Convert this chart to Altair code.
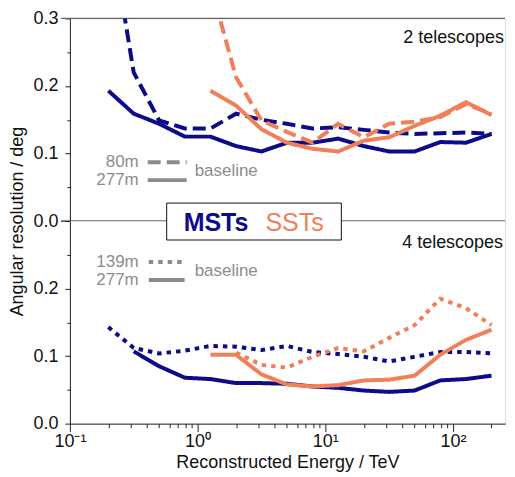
import altair as alt
import pandas as pd

# ---------------- data ----------------
energy = [0.2, 0.316, 0.5, 0.794, 1.26, 2.0, 3.16, 5.0, 7.94, 12.6,
          20.0, 31.6, 50.0, 79.4, 126.0, 200.0]

# 2 telescopes
mst_277_2tel = [0.193, 0.159, 0.144, 0.125, 0.125, 0.111, 0.103, 0.116,
                0.116, 0.122, 0.111, 0.103, 0.103, 0.117, 0.116, 0.129]
mst_80_2tel = [0.45, 0.22, 0.149, 0.137, 0.137, 0.159, 0.150, 0.144,
               0.137, 0.139, 0.135, 0.131, 0.129, 0.130, 0.131, 0.129]
sst_277_2tel = [None, None, None, None, 0.193, 0.171, 0.136, 0.116,
                0.107, 0.103, 0.119, 0.124, 0.141, 0.156, 0.176, 0.157]
sst_80_2tel = [None, None, None, None, 0.35, 0.213, 0.149, 0.132,
               0.116, 0.144, 0.124, 0.144, 0.147, 0.154, 0.173, 0.159]

# 4 telescopes
mst_277_4tel = [None, 0.107, 0.085, 0.068, 0.066, 0.060, 0.060, 0.059,
                0.055, 0.053, 0.049, 0.047, 0.049, 0.064, 0.066, 0.071]
mst_139_4tel = [0.143, 0.112, 0.104, 0.108, 0.115, 0.114, 0.109, 0.115,
                0.106, 0.103, 0.099, 0.092, 0.099, 0.106, 0.106, 0.104]
sst_277_4tel = [None, None, None, None, 0.102, 0.102, 0.073, 0.058,
                0.055, 0.057, 0.064, 0.065, 0.071, 0.102, 0.124, 0.139]
sst_139_4tel = [None, None, None, None, None, 0.105, 0.087, 0.083,
                0.099, 0.112, 0.107, 0.127, 0.146, 0.185, 0.171, 0.146]

instruments = ["MST", "SST"]
baselines = ["80m", "139m", "277m"]
x_tick_values = [0.1, 0.2, 0.3, 0.4, 0.5, 0.6, 0.7, 0.8, 0.9,
                 1, 2, 3, 4, 5, 6, 7, 8, 9,
                 10, 20, 30, 40, 50, 60, 70, 80, 90, 100, 200]
y_ticks_top = [0.0, 0.05, 0.1, 0.15, 0.2, 0.25, 0.3]
y_ticks_bottom = [0.0, 0.05, 0.1, 0.15, 0.2, 0.25]


def to_long(specs):
    rows = []
    for instr, base, vals in specs:
        for e, v in zip(energy, vals):
            if v is not None:
                rows.append({"E": e, "val": v, "instr": instr, "base": base,
                             "series": instr + "-" + base})
    return pd.DataFrame(rows)


df_top = to_long([("MST", "277m", mst_277_2tel), ("MST", "80m", mst_80_2tel),
                  ("SST", "277m", sst_277_2tel), ("SST", "80m", sst_80_2tel)])
df_bot = to_long([("MST", "277m", mst_277_4tel), ("MST", "139m", mst_139_4tel),
                  ("SST", "277m", sst_277_4tel), ("SST", "139m", sst_139_4tel)])

# ---------------- styling ----------------
NAVY = "#0c0c8a"
SALMON = "#f07f5a"
GRAY = "#8c8c8c"
INK = "#111111"
FONT = "Liberation Sans"
W, H = 436, 203
LW = 4

color_scale = alt.Scale(domain=instruments, range=[NAVY, SALMON])
dash_scale = alt.Scale(domain=baselines, range=[[13, 6], [4.5, 5], [1, 0]])
x_scale = alt.Scale(type="log", domain=[0.1, 255], nice=False)
y_scale = alt.Scale(domain=[0, 0.3], nice=False, zero=False)

MAJOR_Y = "abs(datum.value*10 - round(datum.value*10)) < 0.001"
MAJOR_X = "abs(log(datum.value)/LN10 - round(log(datum.value)/LN10)) < 0.01"


def y_axis(values, title=None):
    kw = dict(
        values=values, format=".1f",
        labelExpr=MAJOR_Y + " ? datum.label : ''",
        tickSize={"condition": {"test": MAJOR_Y, "value": 5}, "value": 3},
        labelFontSize=18, labelPadding=7, labelColor=INK,
        domainColor="#222", tickColor="#222", grid=False,
    )
    if title:
        kw.update(title=title, titleFontSize=18, titleFontWeight="normal",
                  titleColor=INK, titleY=H, titlePadding=6)
    else:
        kw.update(title=None)
    return alt.Axis(**kw)


x_axis = alt.Axis(
    values=x_tick_values, title="Reconstructed Energy / TeV",
    labelExpr=("datum.value == 0.1 ? '10\u207b\u00b9' : datum.value == 1 ? '10\u2070' : "
               "datum.value == 10 ? '10\u00b9' : datum.value == 100 ? '10\u00b2' : ''"),
    tickSize={"condition": {"test": MAJOR_X, "value": 8}, "value": 4},
    labelFontSize=18, labelPadding=1, labelColor=INK, labelFlush=False,
    labelOverlap=False, titleFontSize=18, titleFontWeight="normal",
    titleColor=INK, titlePadding=3, domainColor="#222", tickColor="#222",
    grid=False,
)


def lines(df, axis_x, axis_y):
    return alt.Chart(df).mark_line(strokeWidth=LW, clip=True).encode(
        x=alt.X("E:Q", scale=x_scale, axis=axis_x),
        y=alt.Y("val:Q", scale=y_scale, axis=axis_y),
        color=alt.Color("instr:N", scale=color_scale, legend=None),
        strokeDash=alt.StrokeDash("base:N", scale=dash_scale, legend=None),
        detail="series:N",
    )


def label(text, x, y, align="left", size=16, color=GRAY, weight="normal",
          baseline="middle"):
    return alt.Chart(pd.DataFrame({"t": [text]})).mark_text(
        align=align, baseline=baseline, fontSize=size, color=color,
        fontWeight=weight, font=FONT,
    ).encode(text="t:N", x=alt.value(x), y=alt.value(y))


def sample(base, x1, x2, y):
    return alt.Chart(pd.DataFrame({"b": [base]})).mark_rule(
        strokeWidth=LW, color=GRAY,
    ).encode(x=alt.value(x1), x2=alt.value(x2), y=alt.value(y),
             strokeDash=alt.StrokeDash("b:N", scale=dash_scale, legend=None))


def hline(y, color):
    return alt.Chart(pd.DataFrame({"k": [0]})).mark_rule(
        strokeWidth=1.2, color=color,
    ).encode(x=alt.value(-9), x2=alt.value(W), y=alt.value(y))


top = alt.layer(
    hline(0, "#666"),
    hline(H, "#222"),
    lines(df_top, None, y_axis(y_ticks_top, "Angular resolution / deg")),
    label("2 telescopes", W - 1, 25, align="right", size=18, color=INK,
          baseline="alphabetic"),
    label("80m", 69, 144, align="right", size=17),
    label("277m", 69, 162, align="right", size=17),
    sample("80m", 78, 117, 144),
    sample("277m", 78, 117, 162),
    label("baseline", 125, 153, size=17),
).properties(width=W, height=H)

box = alt.Chart(pd.DataFrame({"k": [0]})).mark_rect(
    fill="white", stroke="#111", strokeWidth=1,
).encode(x=alt.value(97), x2=alt.value(272), y=alt.value(-18), y2=alt.value(19))

bottom = alt.layer(
    lines(df_bot, x_axis, y_axis(y_ticks_bottom)),
    label("4 telescopes", W - 2, 27, align="right", size=18, color=INK,
          baseline="alphabetic"),
    label("139m", 69, 41, align="right", size=17),
    label("277m", 69, 59, align="right", size=17),
    sample("139m", 79, 115, 41),
    sample("277m", 79, 115, 59),
    label("baseline", 125, 50, size=17),
    box,
    label("MSTs", 114, 9.5, size=25, color=NAVY, weight="bold", baseline="alphabetic"),
    label("SSTs", 196, 9.5, size=25, color=SALMON, baseline="alphabetic"),
).properties(width=W, height=H)

chart = alt.vconcat(top, bottom, spacing=0, bounds="flush").properties(
    padding={"left": 0, "top": 0, "right": 0, "bottom": 0}
).configure_view(stroke=None).configure(font=FONT)

chart.save("out.html", embed_options={"renderer": "svg", "actions": False})
